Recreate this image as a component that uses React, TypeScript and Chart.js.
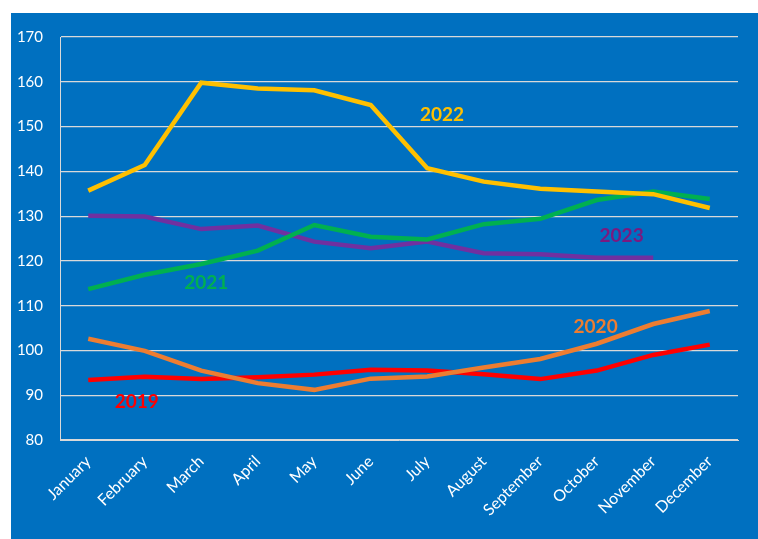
import React, { useEffect, useRef } from "react";
import { Chart, registerables } from "chart.js";

Chart.register(...registerables);

const months = ["January", "February", "March", "April", "May", "June", "July", "August", "September", "October", "November", "December"];
const y2019 = [93.4, 94.1, 93.6, 94.0, 94.6, 95.7, 95.5, 94.7, 93.6, 95.5, 99.0, 101.3];
const y2020 = [102.6, 99.9, 95.5, 92.7, 91.2, 93.7, 94.2, 96.2, 98.1, 101.5, 105.9, 108.8];
const y2021 = [113.7, 116.9, 119.3, 122.3, 128.0, 125.4, 124.8, 128.2, 129.4, 133.6, 135.5, 133.8];
const y2022 = [135.7, 141.4, 159.8, 158.5, 158.1, 154.8, 140.7, 137.7, 136.1, 135.5, 134.9, 131.8];
const y2023 = [130.1, 129.9, 127.1, 127.9, 124.3, 122.8, 124.3, 121.7, 121.5, 120.7, 120.7, null];

// series labels: text, x index position, y value
const labelTexts = ["2019", "2020", "2021", "2022", "2023"];
const labelX = [0.86, 8.98, 2.09, 6.26, 9.44];
const labelY = [88.5, 105.3, 115.1, 152.6, 125.6];
const colors = ["#FF0000", "#ED7D31", "#00B050", "#FFC000", "#7030A0"];
const labelColors = ["#FF0000", "#ED7D31", "#00B050", "#FFC000", "#7A1A80"];

const FONT = "Lato, 'Open Sans', sans-serif";

export default function App() {
  const ref = useRef<HTMLCanvasElement>(null);
  useEffect(() => {
    const canvas = ref.current!;
    const bg = {
      id: "bg",
      beforeDraw(chart: any) {
        const ctx = chart.ctx;
        ctx.save();
        ctx.fillStyle = "#0070C0";
        ctx.fillRect(11, 13, chart.width - 11, chart.height - 13);
        ctx.restore();
      },
    };
    const labels = {
      id: "seriesLabels",
      afterDatasetsDraw(chart: any) {
        const ctx = chart.ctx;
        const xs = chart.scales.x;
        const ys = chart.scales.y;
        ctx.save();
        ctx.font = `bold 19px ${FONT}`;
        ctx.textAlign = "center";
        ctx.textBaseline = "middle";
        labelTexts.forEach((t, i) => {
          const x0 = xs.getPixelForValue(Math.floor(labelX[i]));
          const x1 = xs.getPixelForValue(Math.floor(labelX[i]) + 1);
          const px = x0 + (x1 - x0) * (labelX[i] - Math.floor(labelX[i]));
          ctx.fillStyle = labelColors[i];
          ctx.fillText(t, px, ys.getPixelForValue(labelY[i]));
        });
        ctx.restore();
      },
    };
    const ds = (data: (number | null)[], color: string) => ({
      data,
      borderColor: color,
      backgroundColor: color,
      borderWidth: 4.5,
      pointRadius: 0,
      tension: 0,
      fill: false,
      spanGaps: false,
    });
    const chart = new Chart(canvas, {
      type: "line",
      data: {
        labels: months,
        datasets: [
          ds(y2022, colors[3]),
          ds(y2020, colors[1]),
          ds(y2021, colors[2]),
          ds(y2023, colors[4]),
          ds(y2019, colors[0]),
        ],
      },
      options: {
        responsive: false,
        animation: false,
        devicePixelRatio: 1,
        layout: { padding: { left: 0, top: 37, right: 20, bottom: 0 } },
        plugins: { legend: { display: false }, tooltip: { enabled: false } },
        scales: {
          x: {
            offset: true,
            grid: { display: false, drawTicks: false },
            border: { display: true, color: "#D9D9D9", width: 1 },
            ticks: {
              color: "#FFFFFF",
              font: { family: FONT, size: 16 },
              maxRotation: 45,
              minRotation: 45,
              padding: 12,
              autoSkip: false,
            },
            afterFit(scale: any) {
              scale.height = 99;
            },
          },
          y: {
            min: 80,
            max: 170,
            grid: { color: "#D9D9D9", lineWidth: 1.2, drawTicks: false },
            border: { display: true, color: "#D9D9D9", width: 1 },
            ticks: {
              stepSize: 10,
              color: "#FFFFFF",
              font: { family: FONT, size: 15 },
              padding: 17,
            },
            afterFit(scale: any) {
              scale.width = 60;
            },
          },
        },
      },
      plugins: [bg, labels],
    });
    return () => chart.destroy();
  }, []);
  return (
    <canvas
      ref={ref}
      width={758}
      height={539}
      style={{ position: "fixed", left: 0, top: 0, width: 758, height: 539 }}
    />
  );
}
